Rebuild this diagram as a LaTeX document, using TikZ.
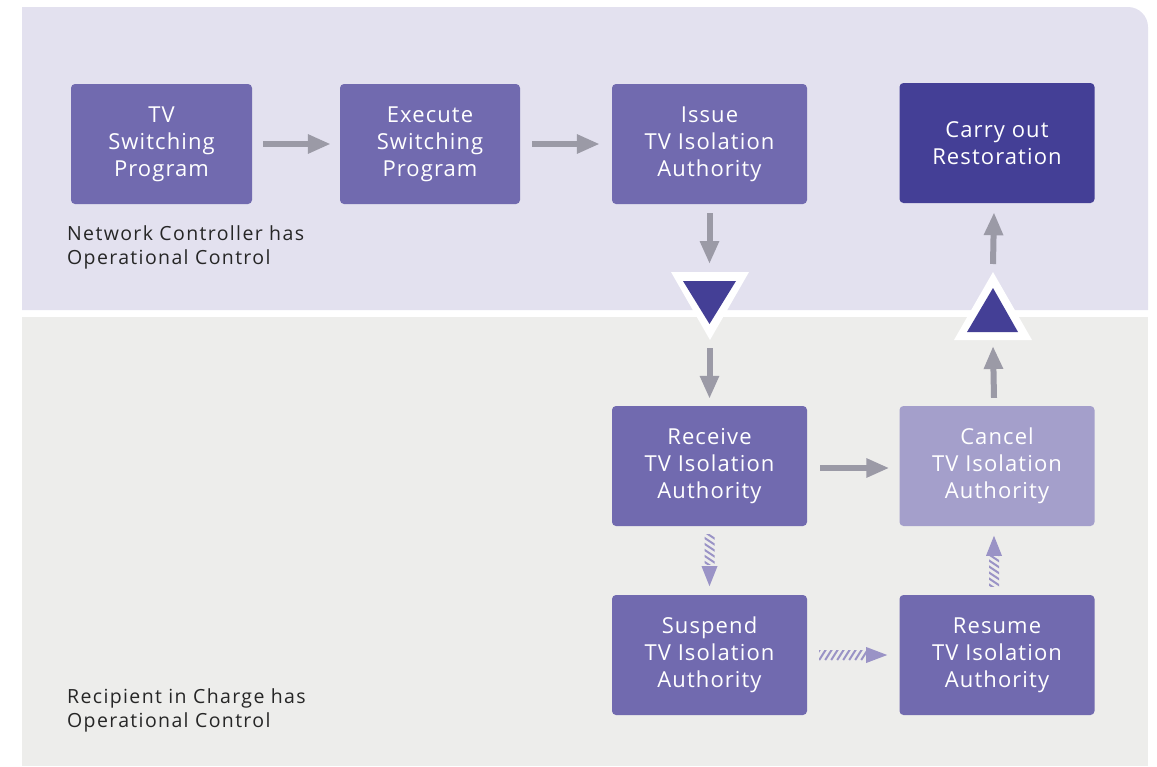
\documentclass[tikz,border=0pt]{standalone}
\usepackage{fontspec}
\setmainfont{Open Sans}
\newfontfamily\boxfont[LetterSpace=5]{Open Sans}
\newfontfamily\notefont[LetterSpace=7]{Open Sans}
\usetikzlibrary{arrows.meta,calc}
\definecolor{topbg}{HTML}{E3E1EF}
\definecolor{botbg}{HTML}{EDEDEB}
\definecolor{boxfill}{HTML}{716AAF}
\definecolor{darkbox}{HTML}{443F96}
\definecolor{lightbox}{HTML}{A49FCB}
\definecolor{arrowgray}{HTML}{9B9AA6}
\definecolor{hatchcol}{HTML}{9A93C6}
\tikzset{
  stepbox/.style={rectangle, rounded corners=4pt, fill=boxfill, text=white,
    minimum width=195pt, minimum height=120pt, align=center, inner sep=0pt,
    font=\boxfont\fontsize{22}{27}\selectfont},
  flow/.style={draw=arrowgray, line width=6pt,
    -{Triangle[length=23pt,width=18pt]}},
  note/.style={anchor=west, align=left, inner sep=0pt, text=black!85,
    font=\notefont\fontsize{19.5}{24}\selectfont},
  hatch/.style={draw=hatchcol, line width=2pt},
  hatchhead/.style={fill=hatchcol},
}
\begin{document}
\begin{tikzpicture}[x=1pt,y=-1pt]
\useasboundingbox (0,0) rectangle (1157,766);

% two control zones
\fill[topbg] (22,310) -- (22,7) -- (1128,7)
  .. controls (1139,7) and (1148,16) .. (1148,27) -- (1148,310) -- cycle;
\fill[botbg] (22,317) rectangle (1148,766);

% process steps
\node[stepbox, minimum width=181pt] (tvs) at (161.5,144) {TV\\Switching\\Program};
\node[stepbox, minimum width=180pt] (exe) at (430,144) {Execute\\Switching\\Program};
\node[stepbox] (iss) at (709.5,144) {Issue\\TV Isolation\\Authority};
\node[stepbox, fill=darkbox] (car) at (997,143) {Carry out\\Restoration};
\node[stepbox] (rec) at (709.5,466) {Receive\\TV Isolation\\Authority};
\node[stepbox, fill=lightbox] (can) at (997,466) {Cancel\\TV Isolation\\Authority};
\node[stepbox] (sus) at (709.5,655) {Suspend\\TV Isolation\\Authority};
\node[stepbox] (res) at (997,655) {Resume\\TV Isolation\\Authority};

% zone labels
\node[note] (nc) at (67,247) {Network Controller has\\Operational Control};
\node[note] (ric) at (67,710) {Recipient in Charge has\\Operational Control};

% hand-over markers on the zone boundary
\coordinate (dn) at (709.5,306);
\coordinate (up) at (995,306);
\fill[white] ($(dn)+(-38.5,-34)$) -- ($(dn)+(39.5,-34)$) -- ($(dn)+(0.5,34)$) -- cycle;
\fill[darkbox] ($(dn)+(-26.5,-25)$) -- ($(dn)+(26.5,-25)$) -- ($(dn)+(0,18)$) -- cycle;
\fill[white] ($(up)+(-41,34)$) -- ($(up)+(37,34)$) -- ($(up)+(-2,-34)$) -- cycle;
\fill[darkbox] ($(up)+(-28,26)$) -- ($(up)+(23,26)$) -- ($(up)+(-2,-18)$) -- cycle;

% solid flow arrows
\draw[flow] ($(tvs.east)+(11,0)$) -- ($(exe.west)+(-9,0)$);
\draw[flow] ($(exe.east)+(12,0)$) -- ($(iss.west)+(-12,0)$);
\draw[flow] ($(iss.south)+(0,9)$) -- ($(dn)+(0,-42)$);
\draw[flow] ($(dn)+(0,42)$) -- ($(rec.north)+(0,-7)$);
\draw[flow] ($(rec.east)+(13,2)$) -- ($(can.west)+(-10,2)$);
\draw[flow] ($(can.north)+(-3,-8)$) -- ($(up)+(-2,40)$);
\draw[flow] ($(up)+(-2,-42)$) -- ($(car.south)+(-3,9)$);

% hatched arrows: receive -> suspend
\coordinate (h1) at ($(rec.south)+(0,8)$);
\begin{scope}
  \clip ($(h1)+(-5,0)$) rectangle ($(h1)+(5,30)$);
  \foreach \k in {-1,...,6} \draw[hatch] ($(h1)+(-6,\k*6-3)$) -- ++(12,8);
\end{scope}
\fill[hatchhead] ($(h1)+(-8,32)$) -- ($(h1)+(8,32)$) -- ($(h1)+(0,52)$) -- cycle;

% suspend -> resume
\coordinate (h2) at ($(sus.east)+(12,0)$);
\begin{scope}
  \clip ($(h2)+(0,-5)$) rectangle ($(h2)+(48,5)$);
  \foreach \k in {-1,...,9} \draw[hatch] ($(h2)+(\k*6,5)$) -- ++(7,-11);
\end{scope}
\fill[hatchhead] ($(h2)+(47,-8)$) -- ($(h2)+(47,8)$) -- ($(h2)+(68,0)$) -- cycle;

% resume -> cancel
\coordinate (h3) at ($(res.north)+(-3,-8)$);
\begin{scope}
  \clip ($(h3)+(-5,0)$) rectangle ($(h3)+(5,-30)$);
  \foreach \k in {-1,...,6} \draw[hatch] ($(h3)+(-6,-\k*6-3)$) -- ++(12,8);
\end{scope}
\fill[hatchhead] ($(h3)+(-8,-31)$) -- ($(h3)+(8,-31)$) -- ($(h3)+(0,-51)$) -- cycle;
\end{tikzpicture}
\end{document}
